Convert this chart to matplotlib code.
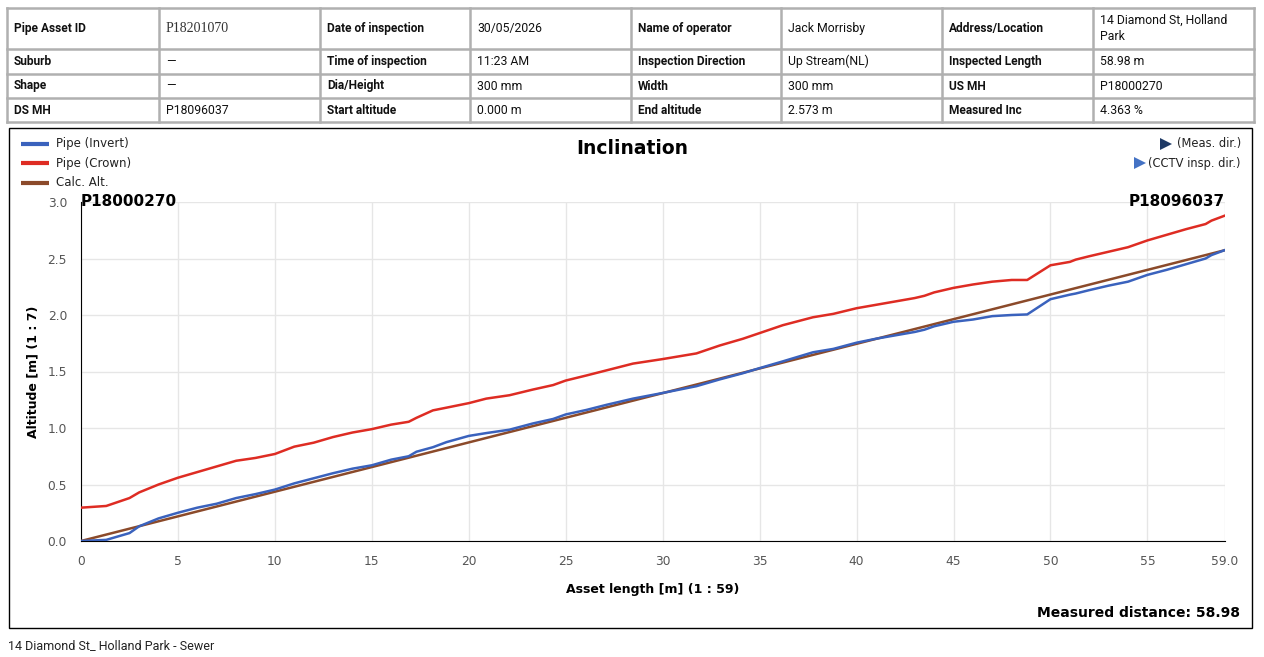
import numpy as np
from matplotlib import pyplot as plt
from matplotlib.patches import Rectangle

# header table
table_rows = [
    ["Pipe Asset ID", "P18201070", "Date of inspection", "30/05/2026",
     "Name of operator", "Jack Morrisby", "Address/Location", "14 Diamond St, Holland\nPark"],
    ["Suburb", "\u2014", "Time of inspection", "11:23 AM",
     "Inspection Direction", "Up Stream(NL)", "Inspected Length", "58.98 m"],
    ["Shape", "\u2014", "Dia/Height", "300 mm",
     "Width", "300 mm", "US MH", "P18000270"],
    ["DS MH", "P18096037", "Start altitude", "0.000 m",
     "End altitude", "2.573 m", "Measured Inc", "4.363 %"],
]

# profile data (m)
dist = [0, 1.3, 2.5, 3, 4, 5, 6, 7, 8, 9, 10, 11, 12, 13, 14, 15, 16, 16.9, 17.3,
        18.15, 18.85, 20, 20.9, 22.1, 23.3, 24.35, 25, 26.07, 27.1, 28.47, 30, 31.74,
        32.94, 34.14, 35, 36.2, 37.75, 38.8, 40, 41, 42, 43, 43.5, 44, 45, 46, 47, 48,
        48.8, 50, 51, 51.3, 52, 53, 54, 55, 56, 57, 58, 58.3, 59]
crown = [0.295, 0.31, 0.38, 0.43, 0.50, 0.56, 0.61, 0.66, 0.71, 0.735, 0.77, 0.835,
         0.87, 0.92, 0.96, 0.99, 1.03, 1.055, 1.09, 1.156, 1.18, 1.22, 1.26, 1.29, 1.34,
         1.38, 1.42, 1.465, 1.51, 1.57, 1.61, 1.66, 1.73, 1.79, 1.84, 1.91, 1.98, 2.01,
         2.06, 2.09, 2.12, 2.15, 2.17, 2.20, 2.24, 2.27, 2.295, 2.31, 2.31, 2.44, 2.47,
         2.49, 2.52, 2.56, 2.60, 2.66, 2.71, 2.76, 2.805, 2.835, 2.88]
invert = [0.0, 0.01, 0.07, 0.13, 0.20, 0.25, 0.295, 0.33, 0.38, 0.415, 0.455, 0.51,
          0.555, 0.60, 0.64, 0.67, 0.72, 0.75, 0.79, 0.83, 0.875, 0.93, 0.955, 0.985,
          1.04, 1.08, 1.12, 1.16, 1.205, 1.26, 1.31, 1.37, 1.43, 1.485, 1.53, 1.59, 1.67,
          1.70, 1.755, 1.79, 1.82, 1.85, 1.87, 1.90, 1.94, 1.96, 1.99, 2.00, 2.005, 2.14,
          2.18, 2.19, 2.22, 2.26, 2.295, 2.355, 2.40, 2.45, 2.50, 2.53, 2.575]
calc_dist = [0, 58.98]
calc_alt = [0, 2.573]

xticks = [0, 5, 10, 15, 20, 25, 30, 35, 40, 45, 50, 55, 59]
xticklabels = ["0", "5", "10", "15", "20", "25", "30", "35", "40", "45", "50", "55", "59.0"]
yticks = [0, 0.5, 1.0, 1.5, 2.0, 2.5, 3.0]

blue = '#3a62bd'
red = '#de2c23'
brown = '#8b4a2a'
W, H = 1264, 657

fig = plt.figure(figsize=(W / 100, H / 100), dpi=100)

# background layer in pixel coords
bg = fig.add_axes([0, 0, 1, 1])
bg.set_xlim(0, W)
bg.set_ylim(H, 0)
bg.axis('off')

col_edges = [7, 159, 320, 470, 631, 781, 942, 1093, 1254]
row_edges = [8, 49, 74, 98, 122]
grey = '#b0b0b0'
for x in col_edges:
    bg.plot([x, x], [row_edges[0], row_edges[-1]], color=grey, lw=1.8)
for y in row_edges:
    bg.plot([col_edges[0], col_edges[-1]], [y, y], color=grey, lw=1.8)
for r, row in enumerate(table_rows):
    yc = (row_edges[r] + row_edges[r + 1]) / 2
    for c, txt in enumerate(row):
        kw = dict(fontsize=8.8, va='center', ha='left', family='Roboto', color='#111111')
        if c % 2 == 0:
            kw['fontweight'] = 'bold'
            kw['fontsize'] = 8.6
        if r == 0 and c == 1:
            kw['family'] = 'Liberation Serif'
            kw['fontsize'] = 10
            kw['color'] = '#333333'
        bg.text(col_edges[c] + 7, yc, txt, linespacing=1.3, **kw)

# chart frame
bg.add_patch(Rectangle((9, 128), 1243, 500, fill=False, ec='black', lw=1))
bg.text(8, 646, "14 Diamond St_ Holland Park - Sewer", fontsize=9, family='Roboto',
        va='center', ha='left', color='#222222')

# legend
legend_items = [("Pipe (Invert)", blue), ("Pipe (Crown)", red), ("Calc. Alt.", brown)]
for i, (lab, col) in enumerate(legend_items):
    y = 144 + i * 19.3
    bg.plot([21, 49], [y, y], color=col, lw=3, solid_capstyle='butt')
    bg.text(56, y, lab, fontsize=8.5, family='DejaVu Sans', va='center', ha='left',
            color='#222222')
dir_items = [("(Meas. dir.)", '#1f3a66'), ("(CCTV insp. dir.)", '#4472c4')]
dir_marker_x = [1166, 1140]
for i, (lab, col) in enumerate(dir_items):
    y = 144 + i * 19.3
    bg.text(1241, y, lab, fontsize=8.3, family='DejaVu Sans', va='center',
            ha='right', color='#222222')
    bg.plot([dir_marker_x[i]], [y], marker='>', ms=9, color=col, mew=0)

bg.text(632, 149, "Inclination", fontsize=13.5, fontweight='bold', ha='center',
        va='center', family='DejaVu Sans')
bg.text(1240, 613, "Measured distance: 58.98", fontsize=10, fontweight='bold',
        ha='right', va='center', family='DejaVu Sans')

# plot area
ax = fig.add_axes([81 / W, 1 - 541 / H, (1225 - 81) / W, (541 - 202) / H])
ax.plot(calc_dist, calc_alt, color=brown, lw=1.8, zorder=3)
ax.plot(dist, invert, color=blue, lw=1.8, zorder=4)
ax.plot(dist, crown, color=red, lw=1.8, zorder=5)
ax.set_xlim(0, 59)
ax.set_ylim(0, 3.0)
ax.set_xticks(xticks)
ax.set_xticklabels(xticklabels)
ax.set_yticks(yticks)
ax.set_yticklabels(["%.1f" % v for v in yticks])
ax.grid(True, color='#e6e6e6', lw=1)
ax.set_axisbelow(True)
for s in ['top', 'right']:
    ax.spines[s].set_visible(False)
ax.spines['left'].set_color('black')
ax.spines['bottom'].set_color('black')
ax.tick_params(length=0, labelsize=8.8, labelcolor='#555555', pad=10)
ax.set_xlabel("Asset length [m] (1 : 59)", fontsize=9, fontweight='bold', labelpad=11)
ax.set_ylabel("Altitude [m] (1 : 7)", fontsize=9, fontweight='bold', labelpad=6)
ax.text(0, 3.0, "P18000270", fontsize=11, fontweight='bold', ha='left', va='center',
        transform=ax.transData)
ax.text(59, 3.0, "P18096037", fontsize=11, fontweight='bold', ha='right', va='center',
        transform=ax.transData)

fig.savefig('out.png', dpi=100)
